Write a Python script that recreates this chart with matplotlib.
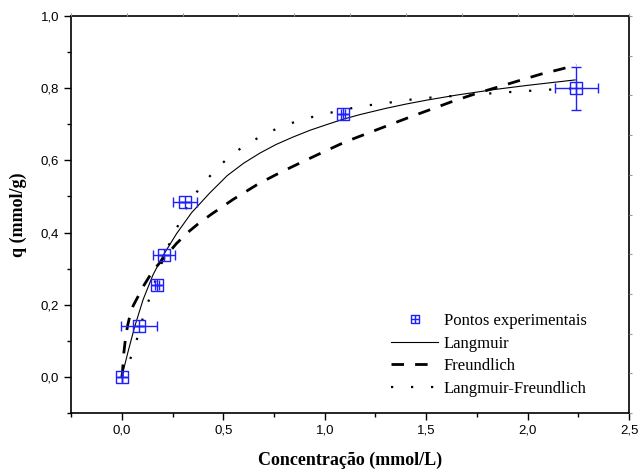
import numpy as np
import matplotlib
matplotlib.use('Agg')
import matplotlib.pyplot as plt
from matplotlib.ticker import MultipleLocator, FuncFormatter
from matplotlib.path import Path

# experimental points
conc = [0.0, 0.084, 0.175, 0.207, 0.312, 1.09, 2.24]
q_exp = [0.0, 0.142, 0.256, 0.339, 0.486, 0.728, 0.80]
conc_err = [0.0, 0.09, 0.01, 0.054, 0.06, 0.01, 0.105]
q_err = [0.0, 0.0, 0.0, 0.0, 0.0, 0.0, 0.06]

# fitted curves
lang_c = [0, 0.031, 0.064, 0.105, 0.154, 0.204, 0.27, 0.344, 0.434, 0.52, 0.6,
          0.68, 0.76, 0.845, 0.93, 1.009, 1.09, 1.174, 1.3, 1.4, 1.503, 1.65,
          1.831, 2.0, 2.234]
lang_q = [0, 0.07, 0.14, 0.214, 0.283, 0.337, 0.397, 0.455, 0.51, 0.558, 0.592,
          0.620, 0.644, 0.665, 0.684, 0.699, 0.714, 0.727, 0.744, 0.756, 0.767,
          0.781, 0.796, 0.808, 0.823]

freu_c = [0, 0.003, 0.01, 0.02, 0.03, 0.043, 0.056, 0.085, 0.105, 0.151, 0.2,
          0.237, 0.27, 0.335, 0.376, 0.442, 0.549, 0.676, 0.783, 0.89, 0.996,
          1.104, 1.211, 1.317, 1.424, 1.531, 1.637, 1.745, 1.852, 1.958, 2.065,
          2.172, 2.24]
freu_q = [0, 0.01, 0.066, 0.115, 0.145, 0.177, 0.197, 0.228, 0.25, 0.292, 0.325,
          0.348, 0.37, 0.405, 0.424, 0.451, 0.492, 0.536, 0.567, 0.596, 0.624,
          0.652, 0.675, 0.698, 0.721, 0.743, 0.765, 0.785, 0.803, 0.821, 0.839,
          0.854, 0.865]

lf_c = [0, 0.02, 0.039, 0.064, 0.087, 0.105, 0.13, 0.155, 0.18, 0.21, 0.237,
        0.27, 0.302, 0.345, 0.4, 0.464, 0.537, 0.611, 0.689, 0.764, 0.84, 0.916,
        0.993, 1.07, 1.144, 1.219, 1.297, 1.371, 1.448, 1.522, 1.598, 1.675,
        1.749, 1.826, 1.902, 1.979, 2.056, 2.13, 2.21]
lf_q = [0, 0.018, 0.045, 0.086, 0.126, 0.166, 0.207, 0.25, 0.29, 0.335, 0.372,
        0.41, 0.453, 0.494, 0.535, 0.575, 0.614, 0.643, 0.668, 0.688, 0.704,
        0.717, 0.728, 0.737, 0.746, 0.753, 0.758, 0.765, 0.77, 0.774, 0.777,
        0.78, 0.783, 0.786, 0.789, 0.792, 0.794, 0.797, 0.799]

serif = 'Liberation Serif'
sans = 'Liberation Sans'

# square with a cross inside (Origin style marker)
M, L = Path.MOVETO, Path.LINETO
box_plus = Path([(-1, -1), (1, -1), (1, 1), (-1, 1), (-1, -1),
                 (0, -1), (0, 1), (-1, 0), (1, 0)],
                [M, L, L, L, L, M, L, M, L])

fig = plt.figure(figsize=(6.4, 4.72), dpi=100)
ax = fig.add_axes([0.111, 0.125, 0.872, 0.841])

blue = '#2020ff'
ax.errorbar(conc, q_exp, xerr=conc_err, yerr=q_err, fmt='none', ecolor=blue,
            elinewidth=1.0, capsize=3.5, capthick=1.0, zorder=3)
ax.plot(conc, q_exp, linestyle='none', marker=box_plus, color=blue,
        markerfacecolor='none', markeredgewidth=1.0, markersize=8, zorder=4,
        label='Pontos experimentais')
ax.plot(lang_c, lang_q, color='black', lw=0.8, label='Langmuir')
ax.plot(freu_c, freu_q, color='black', lw=2.0, dashes=(4.5, 4.0),
        label='Freundlich')
ax.plot(lf_c, lf_q, color='black', lw=1.6, dashes=(1.0, 8.0),
        label='Langmuir-Freundlich')

ax.set_xlim(-0.25, 2.5)
ax.set_ylim(-0.1, 1.0)
ax.xaxis.set_major_locator(MultipleLocator(0.5))
ax.xaxis.set_minor_locator(MultipleLocator(0.25))
ax.yaxis.set_major_locator(MultipleLocator(0.2))
ax.yaxis.set_minor_locator(MultipleLocator(0.1))
comma = FuncFormatter(lambda v, p: f'{v:.1f}'.replace('.', ','))
ax.xaxis.set_major_formatter(comma)
ax.yaxis.set_major_formatter(comma)
ax.tick_params(which='major', direction='out', length=5, width=1.0,
               labelsize=9.5, top=False, right=False)
ax.tick_params(which='minor', direction='out', length=3, width=1.0,
               top=False, right=False)
for lab in ax.get_xticklabels() + ax.get_yticklabels():
    lab.set_family(sans)
for s in ax.spines.values():
    s.set_linewidth(1.2)

# faint ticks on top and right
ax2 = fig.add_axes(ax.get_position(), frameon=False)
ax2.set_xlim(0, 1)
ax2.set_ylim(0, 1)
ax2.set_xticks(np.arange(0, 1.01, 0.1))
ax2.set_yticks(np.arange(0, 1.01, 0.1))
ax2.xaxis.tick_top()
ax2.yaxis.tick_right()
ax2.tick_params(direction='out', length=2, color='#999999',
                labeltop=False, labelright=False, labelbottom=False,
                labelleft=False)

ax.set_xlabel('Concentração (mmol/L)', family=serif, fontweight='bold',
              fontsize=13, labelpad=11)
ax.set_ylabel('q (mmol/g)', family=serif, fontweight='bold', fontsize=13,
              labelpad=10)

leg = ax.legend(loc='upper left', bbox_to_anchor=(0.547, 0.29), frameon=False,
                prop={'family': serif, 'size': 12}, handlelength=2.8,
                handletextpad=0.35, labelspacing=0.4, markerscale=0.65)

plt.savefig('out.png', dpi=100)
